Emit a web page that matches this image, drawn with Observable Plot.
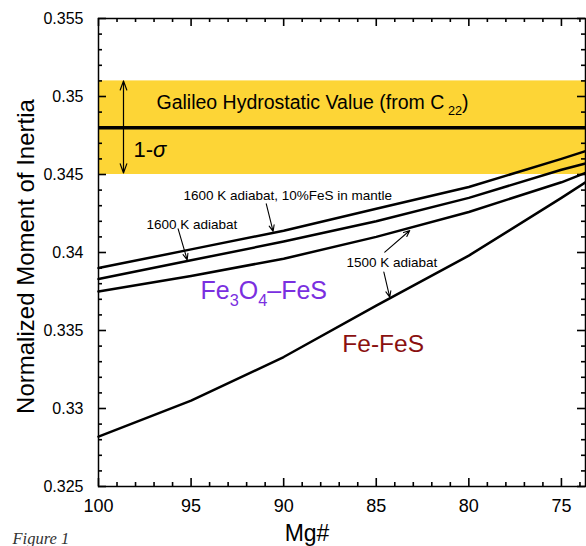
<!DOCTYPE html>
<html><head><meta charset="utf-8">
<script src="https://cdn.jsdelivr.net/npm/d3@7"></script>
<script src="https://cdn.jsdelivr.net/npm/@observablehq/plot@0.6"></script>
<style>body{margin:0;background:#fff}</style>
</head><body><div id="chart"></div>
<script>
// ---- data ----
const mgNumber     = [100, 95, 90, 85, 80, 75, 73.7];
const feS10Mantle  = [0.3390, 0.3402, 0.3414, 0.3428, 0.3442, 0.3460, 0.3465];
const adiabat1600  = [0.3383, 0.3395, 0.3407, 0.3420, 0.3435, 0.3453, 0.3457];
const adiabat1500  = [0.3375, 0.3385, 0.3396, 0.3410, 0.3426, 0.3445, 0.3451];
const feFeS        = [0.3282, 0.3305, 0.3333, 0.3366, 0.3398, 0.3435, 0.3445];
const galileoValue = 0.348;
const galileoSigma = 0.003;
const xDomain = [100, 73.7];
const yDomain = [0.325, 0.355];
const xTicks = [100, 95, 90, 85, 80, 75];
const yTicks = [0.325, 0.33, 0.335, 0.34, 0.345, 0.35, 0.355];
const xMinor = d3.range(74, 101).filter(d => d % 5 !== 0);
const yMinor = d3.range(326, 355).filter(d => d % 5 !== 0).map(d => d / 1000);

const series = [
  {name: "1600 K adiabat, 10%FeS in mantle", values: feS10Mantle},
  {name: "1600 K adiabat", values: adiabat1600},
  {name: "1500 K adiabat", values: adiabat1500},
  {name: "Fe-FeS", values: feFeS}
];
const rows = series.flatMap(s => mgNumber.map((m, i) => ({series: s.name, mg: m, moi: s.values[i]})));

// annotations (data coordinates)
const notes = [
  {label: "Galileo Hydrostatic Value (from C_{ 22})", mg: 96.87, moi: 0.34917, size: 19.5, color: "black"},
  {label: "1-~{σ}", mg: 98.11, moi: 0.34609, size: 22, color: "black"},
  {label: "1600 K adiabat, 10%FeS in mantle", mg: 95.41, moi: 0.34338, size: 13.5, color: "black"},
  {label: "1600 K adiabat", mg: 97.41, moi: 0.34152, size: 13.5, color: "black"},
  {label: "1500 K adiabat", mg: 86.61, moi: 0.33906, size: 13.5, color: "black"},
  {label: "Fe_{3}O_{4}–FeS", mg: 94.49, moi: 0.33705, size: 25, color: "#7A2FE0"},
  {label: "Fe-FeS", mg: 86.83, moi: 0.33359, size: 24.5, color: "#8A1010"}
];
const pointers = [
  {x1: 90.94, y1: 0.34312, x2: 90.57, y2: 0.34135},
  {x1: 95.70, y1: 0.34152, x2: 95.21, y2: 0.33953},
  {x1: 84.54, y1: 0.34002, x2: 83.19, y2: 0.34141},
  {x1: 84.59, y1: 0.33874, x2: 84.27, y2: 0.33713}
];
const sigmaArrows = [
  {x1: 98.65, y1: galileoValue, x2: 98.65, y2: 0.3510},
  {x1: 98.65, y1: galileoValue, x2: 98.65, y2: 0.3451}
];

const fmt = d => String(d);
const W = 586, H = 546, ML = 98, MR = 1, MT = 18, MB = 60;
const FW = W - ML - MR, FH = H - MT - MB;   // frame size in px

const plot = Plot.plot({
  width: W, height: H,
  marginLeft: ML, marginRight: MR, marginTop: MT, marginBottom: MB,
  style: {fontFamily: "'Liberation Sans', Arial, sans-serif", background: "white", color: "black"},
  x: {domain: xDomain, label: null},
  y: {domain: yDomain, label: null},
  color: {type: "identity"},
  marks: [
    Plot.rect([{lo: galileoValue - galileoSigma, hi: galileoValue + galileoSigma}], {y1: "lo", y2: "hi", fill: "#FDD536"}),
    Plot.ruleY([galileoValue], {stroke: "black", strokeWidth: 3.5}),
    Plot.line(rows, {x: "mg", y: "moi", z: "series", stroke: "black", strokeWidth: 2.5}),
    // tick labels
    Plot.axisX(xTicks, {anchor: "bottom", tickSize: 0, tickPadding: 13, fontSize: 18, tickFormat: fmt, label: null}),
    Plot.axisY(yTicks, {anchor: "left", tickSize: 0, tickPadding: 15, fontSize: 16, tickFormat: fmt, label: null}),
    Plot.frame({stroke: "black", strokeWidth: 1.5}),
    // annotations
    Plot.arrow(sigmaArrows, {x1: "x1", y1: "y1", x2: "x2", y2: "y2", stroke: "black", strokeWidth: 1.2, headLength: 12, headAngle: 40}),
    Plot.arrow(pointers, {x1: "x1", y1: "y1", x2: "x2", y2: "y2", stroke: "black", strokeWidth: 1.1, headLength: 9, headAngle: 45}),
    Plot.text(notes, {x: "mg", y: "moi", text: "label", fontSize: "size", fill: "color", textAnchor: "start", lineAnchor: "bottom"}),
    // axis titles & caption
    Plot.text(["Normalized Moment of Inertia"], {frameAnchor: "left", rotate: -90, dx: -65, dy: 4, fontSize: 24, textAnchor: "middle", lineAnchor: "bottom"}),
    Plot.text(["Mg#"], {frameAnchor: "bottom", dx: -35, dy: 54, fontSize: 23, textAnchor: "middle", lineAnchor: "bottom"}),
    Plot.text(["Figure 1"], {frameAnchor: "bottom-left", dx: -86, dy: 57, fontSize: 16.5, fontStyle: "italic", fontFamily: "'Liberation Serif', 'Times New Roman', serif", fill: "#333", textAnchor: "start", lineAnchor: "bottom"}),
    // inward ticks on all four sides (drawn last)
    Plot.tickX(xTicks, {x: d => d, insetTop: FH - 8, stroke: "black", strokeWidth: 1.6}),
    Plot.tickX(xMinor, {x: d => d, insetTop: FH - 4, stroke: "black", strokeWidth: 1.6}),
    Plot.tickX(xTicks, {x: d => d, insetBottom: FH - 8, stroke: "black", strokeWidth: 1.6}),
    Plot.tickX(xMinor, {x: d => d, insetBottom: FH - 4, stroke: "black", strokeWidth: 1.6}),
    Plot.tickY(yTicks, {y: d => d, insetRight: FW - 8, stroke: "black", strokeWidth: 1.6}),
    Plot.tickY(yMinor, {y: d => d, insetRight: FW - 4, stroke: "black", strokeWidth: 1.6}),
    Plot.tickY(yTicks, {y: d => d, insetLeft: FW - 8, stroke: "black", strokeWidth: 1.6}),
    Plot.tickY(yMinor, {y: d => d, insetLeft: FW - 4, stroke: "black", strokeWidth: 1.6})
  ]
});
document.getElementById("chart").appendChild(plot);

// subscript / italic markup -> tspans
function richText(root) {
  root.querySelectorAll("text").forEach(t => {
    const s = t.textContent;
    if (!/[_~]\{/.test(s)) return;
    const fs = parseFloat(getComputedStyle(t).fontSize) || 16;
    while (t.firstChild) t.removeChild(t.firstChild);
    const re = /([_~])\{([^}]*)\}/g;
    let last = 0, m, shifted = 0;
    const add = (str, kind) => {
      if (!str) return;
      const sp = document.createElementNS("http://www.w3.org/2000/svg", "tspan");
      sp.textContent = str;
      if (kind === "_") {
        sp.setAttribute("font-size", (fs * 0.65).toFixed(1));
        if (!shifted) { sp.setAttribute("dy", (fs * 0.3).toFixed(1)); shifted = fs * 0.3; }
      } else {
        if (shifted) { sp.setAttribute("dy", (-shifted).toFixed(1)); shifted = 0; }
        if (kind === "~") sp.setAttribute("font-style", "italic");
      }
      t.appendChild(sp);
    };
    while ((m = re.exec(s))) { add(s.slice(last, m.index), ""); add(m[2], m[1]); last = re.lastIndex; }
    add(s.slice(last), "");
  });
}
richText(plot);
</script>
</body></html>
